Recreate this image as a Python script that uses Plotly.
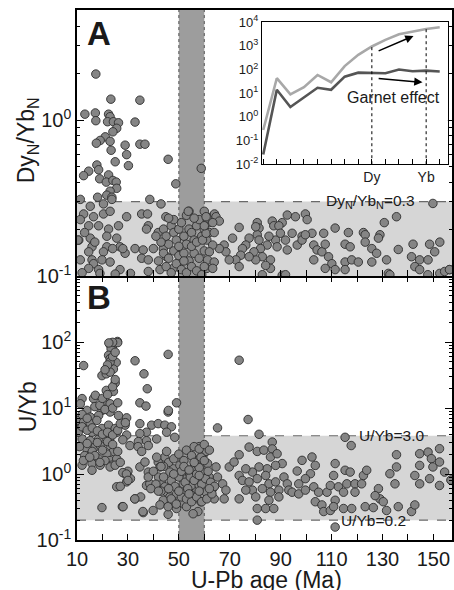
import plotly.graph_objects as go

# ---------------- data ----------------
# Panel A: U-Pb age (Ma) vs DyN/YbN
age_a = [17.4,23.3,34.7,13.1,17.2,17.4,22.4,23.0,22.0,24.3,26.3,25.6,24.1,32.8,21.1,19.1,17.6,23.0,23.4,28.9,
         34.7,36.7,29.5,25.0,30.2,17.8,18.5,14.6,12.6,22.4,18.9,21.5,24.1,25.4,25.6,23.0,21.7,23.7,18.1,45.8,
         48.8,58.8,
         11.3,15.2,20.4,23.7,38.6,43.0,54.0,12.6,16.5,20.4,23.0,29.5,35.4,37.7,38.0,44.9,11.3,14.6,18.5,22.4,
         26.3,37.3,41.9,10.7,15.2,21.7,25.6,15.9,21.7,26.9,32.8,36.0,40.0,43.9,14.6,20.4,28.9,11.3,15.9,19.8,
         35.4,38.0,45.2,16.5,23.0,26.9,14.6,18.5,38.0,42.6,47.8,10.4,13.0,17.0,24.0,28.0,12.0,19.0,25.0,31.0,
         44,45,46,47,48,49,50,51,52,53,54,55,56,57,58,59,60,61,62,44,46,48,50,52,54,56,58,60,45,47,49,51,53,55,
         57,59,61,42,43,41,50,52,55,57,53,56,48,62,60,46,61,63,64,53.7,
         149.8,92.6,95.8,99.7,100.4,90.6,86.7,87.3,80.8,81.5,73.7,64.6,60.7,65.9,135.5,130.7,111.4,116.6,122.5,123.2,
         129.0,128.4,106.9,102.3,98.4,94.5,89.3,89.9,88.0,85.4,84.7,88.6,91.9,92.6,80.8,81.5,82.1,82.8,86.0,86.0,
         84.1,80.2,79.5,77.6,76.3,75.0,74.3,77.6,72.4,69.8,73.7,67.8,71.1,68.5,65.9,63.3,62.0,61.3,63.9,63.3,
         60.0,59.3,60.7,63.9,60.0,63.3,90.6,96.5,98.4,99.7,103.0,104.3,103.0,106.2,107.5,108.8,110.1,107.5,111.4,115.3,
         117.9,120.5,115.3,117.3,123.2,125.8,127.7,125.8,131.6,136.2,142.0,141.4,144.6,147.9,148.5,152.5,150.5,142.7,144.6,152.5,
         154.4,156.4,132.3,115.3,80.2,82.8,91.9,132.9,147.8,156.3]
dyyb_a = [1.97,1.36,1.34,1.09,1.11,0.99,1.09,1.05,0.975,0.975,0.96,0.885,0.84,0.97,0.78,0.74,0.71,0.73,0.64,0.69,
          0.70,0.70,0.60,0.54,0.51,0.515,0.48,0.47,0.44,0.445,0.42,0.40,0.41,0.40,0.365,0.35,0.33,0.32,0.32,0.56,
          0.39,0.49,
          0.31,0.28,0.29,0.31,0.31,0.29,0.26,0.25,0.24,0.25,0.26,0.24,0.25,0.25,0.21,0.24,0.23,0.21,0.21,0.20,
          0.21,0.20,0.19,0.17,0.175,0.18,0.175,0.154,0.154,0.154,0.15,0.147,0.15,0.15,0.143,0.143,0.14,0.127,0.127,0.127,
          0.13,0.127,0.133,0.12,0.123,0.11,0.112,0.11,0.107,0.11,0.112,0.17,0.19,0.165,0.15,0.15,0.105,0.104,0.103,0.104,
          0.2,0.18,0.16,0.21,0.19,0.17,0.2,0.22,0.18,0.16,0.2,0.19,0.17,0.21,0.23,0.18,0.2,0.17,0.19,0.14,0.13,0.145,0.135,0.14,0.125,0.14,0.13,0.145,0.115,0.105,0.12,0.11,0.105,0.115,
          0.108,0.102,0.112,0.125,0.165,0.18,0.155,0.125,0.155,0.165,0.245,0.235,0.23,0.22,0.26,0.235,0.235,0.24,0.25,0.26,
          0.292,0.246,0.24,0.25,0.23,0.22,0.225,0.21,0.22,0.203,0.205,0.24,0.24,0.225,0.24,0.22,0.203,0.19,0.19,0.184,
          0.184,0.175,0.188,0.188,0.18,0.188,0.21,0.188,0.17,0.18,0.158,0.154,0.17,0.147,0.184,0.17,0.15,0.133,0.127,0.112,
          0.117,0.127,0.143,0.175,0.158,0.15,0.136,0.133,0.127,0.127,0.115,0.158,0.175,0.143,0.15,0.158,0.143,0.127,0.123,0.112,
          0.115,0.17,0.188,0.19,0.21,0.22,0.101,0.158,0.17,0.184,0.158,0.147,0.127,0.143,0.16,0.133,0.12,0.112,0.11,0.123,
          0.127,0.123,0.16,0.154,0.165,0.15,0.14,0.123,0.127,0.148,0.16,0.133,0.127,0.127,0.16,0.165,0.143,0.115,0.11,0.104,
          0.107,0.11,0.104,0.11,0.207,0.102,0.102,0.102,0.102,0.11]

# Panel B: U-Pb age (Ma) vs U/Yb
age_b = [25.9,23.0,24.1,23.4,12.6,22.4,23.0,23.7,22.4,25.4,24.3,19.8,21.5,23.0,32.8,45.8,36.3,25.0,37.6,21.5,
         24.3,12.0,11.3,16.5,17.2,21.1,23.0,19.8,13.9,15.2,18.5,23.0,26.3,29.5,34.7,37.1,45.8,49.1,10.0,12.6,
         15.2,17.8,11.3,15.9,19.8,22.4,25.0,28.9,34.7,39.3,41.9,44.5,47.1,37.3,34.7,12.0,15.2,18.5,23.0,25.6,
         29.5,30.8,34.1,37.3,41.3,45.2,48.4,13.9,17.2,19.1,23.0,24.3,21.7,18.5,14.6,15.9,19.1,23.0,25.6,23.7,
         12.0,34.0,38.0,35.4,15.9,23.0,25.0,34.7,36.7,38.0,28.9,29.5,37.3,38.6,41.9,42.6,44.5,45.2,41.3,25.6,
         19.8,27.8,32.8,36.0,39.9,45.8,
         43.2,44.5,45.2,46.5,47.8,49.1,50.4,51.7,53.0,54.3,55.6,56.9,58.2,59.5,49.1,47.8,50.4,46.5,43.9,42.6,
         45.8,49.1,51.7,54.3,55.6,56.9,58.8,60.1,57.5,55.6,53.0,54.9,53.0,
         65.2,77.2,81.5,115.3,117.7,58.0,60.7,58.7,61.3,59.3,61.9,58.0,60.7,58.7,63.3,64.6,65.2,67.2,68.5,67.8,63.9,
         69.8,71.7,73.7,77.6,80.8,83.4,86.7,86.7,86.0,88.6,90.6,88.0,84.7,81.5,78.9,76.3,73.7,75.0,77.6,80.8,
         84.1,85.4,88.0,91.3,92.6,89.3,86.0,82.8,78.9,76.3,73.7,80.2,85.4,89.3,80.8,84.1,87.3,80.8,93.2,
         96.5,98.4,102.3,103.6,101.7,99.7,97.1,94.5,97.1,99.7,103.0,104.9,103.6,106.2,106.9,109.5,108.2,109.5,110.8,111.4,
         112.7,115.3,117.3,116.0,114.7,111.4,110.8,114.7,117.9,119.2,121.8,122.5,123.8,119.2,111.4,
         123.2,126.4,129.0,128.4,130.3,131.6,127.1,132.9,134.9,135.5,135.5,136.2,141.4,142.7,144.6,147.9,149.2,149.8,152.4,152.4,
         144.6,142.7,144.6,148.5,154.4,157.0,152.4,73.7,45.9,156.9,
         47,48.5,50,51,52.5,53.5,54.5,56,57,58,59,60.5,61.5,62.5,46,48,50,52,53,55,56,58,60,62,44,42,41,43,47,49,
         51,53,55,57,59,61,63,64,62,58,54,50,46,44,52,56,60,48,54,58,
         11,13,14,16,17,18,20,21,22,24,26,27,28,12.5,15,19,10.5,12,14,16,18,20,22,24,26,27,29,12,14,17,19,21,24,26,
         20,22,24,25,23,24,22,25,21,26,24,22.5,
         30,31,35,38,40,43,39,42,27,28,29.4,30,28.1,32.7,35.9]
uyb_b = [102,91,89,79,44,63,56,44,42,49,39,31,33,35,52,65,33,24,19.6,18.5,
         17.9,13.9,11.6,13.9,15.6,12.3,11.6,9.2,9.2,7.3,7.7,8.7,7.7,7.1,12,10.7,8.7,12,6.5,6.1,
         5.8,6.5,4.9,4.3,4.9,5.5,4.9,5.5,5.8,5.5,5.8,5.5,5.2,4.3,4.1,3.4,3.2,3.4,3.6,4.3,
         3.9,2.7,3.1,3.2,3.4,4.3,3.6,2.4,2.6,2.7,2.7,2.2,2.0,1.7,1.9,1.44,1.36,1.6,1.7,1.36,
         1.36,2.6,2.7,2.2,1.14,1.28,1.36,1.28,1.52,1.07,1.01,0.76,0.67,0.71,1.52,1.28,1.8,2.2,1.8,0.64,
         0.31,0.32,0.42,0.26,0.28,0.245,
         0.76,0.64,0.53,0.45,0.38,0.50,0.60,0.71,0.85,1.01,1.2,1.44,1.71,1.92,0.95,1.2,1.36,1.07,0.40,0.34,
         0.32,0.30,0.36,0.40,0.50,0.60,0.76,0.95,0.27,0.25,0.32,0.67,0.53,
         5.0,6.7,4.0,3.6,2.7,2.6,2.2,1.8,1.44,1.07,0.90,0.67,0.53,0.38,0.60,1.28,0.9,0.71,0.57,0.42,0.42,
         1.28,1.52,1.96,2.56,2.2,2.3,3.05,2.4,1.81,2.03,1.44,1.35,1.2,1.28,1.07,1.2,0.95,0.80,0.76,0.85,
         0.95,0.71,0.76,0.9,0.71,0.57,0.53,0.60,0.57,0.57,0.42,0.45,0.40,0.45,0.30,0.30,0.30,0.2,0.57,
         1.11,1.61,1.81,1.35,1.01,0.85,0.71,0.53,0.50,0.57,0.64,0.53,0.38,0.34,0.27,0.28,0.53,0.67,0.95,1.44,
         0.64,1.14,1.07,0.71,0.53,0.40,0.32,0.30,0.30,0.71,0.71,0.95,1.14,0.53,0.157,
         0.32,0.31,0.42,0.60,0.38,0.28,0.47,1.01,0.71,1.28,1.96,0.32,0.27,0.34,2.03,2.15,1.71,1.28,2.42,1.52,
         1.35,0.95,0.71,0.85,1.07,0.80,0.67,53,9.2,0.81,
         0.8,0.65,0.9,1.1,0.75,0.6,0.9,0.8,1.0,1.25,0.7,0.85,1.1,0.75,1.5,1.7,2.0,1.6,2.3,1.9,2.6,2.4,2.8,2.3,1.3,0.9,0.7,0.55,0.42,0.35,
         0.45,0.42,0.38,0.45,0.38,0.42,0.5,0.65,0.6,0.55,0.5,0.55,0.6,0.9,1.3,1.5,1.6,1.0,1.15,0.95,
         2.6,1.9,2.9,2.2,1.9,3.0,2.3,1.6,3.1,2.8,2.2,1.5,3.3,1.6,1.8,1.5,4.3,5.2,4.6,5.0,4.5,4.0,4.3,3.9,4.6,5.8,6.0,8.0,7.0,10.5,11,9.5,10,12,
         14,16,21,27,50,60,45,70,38,98,99,97,
         1.1,0.85,0.45,0.9,1.1,1.3,0.6,0.55,0.65,1.05,1.0,0.8,0.32,0.42,0.27]

# reference limits
dy_limit = 0.3
uyb_high = 3.8
uyb_low = 0.2
gap_age = [50, 60]
age_range = [10, 157.3]

# Inset: chondrite-normalised REE patterns
ree = ["La","Ce","Pr","Nd","Sm","Eu","Gd","Tb","Dy","Ho","Er","Tm","Yb","Lu"]
ree_no_garnet = [0.28,43,9,18,59,29,140,420,940,1800,3100,4000,5200,6100]
ree_garnet = [0.026,14,2.6,6.6,17,14,50,74,70,70,100,85,90,83]
ree_labelled = ["Dy", "Yb"]

FONT = "Liberation Sans, Arial, sans-serif"
A_RANGE = [-1, 0.705]
B_RANGE = [-1, 3]

fig = go.Figure()

# horizontal bands
fig.add_trace(go.Scatter(x=[age_range[0], age_range[1], age_range[1], age_range[0], age_range[0]],
                         y=[0.1, 0.1, dy_limit, dy_limit, 0.1], fill="toself", fillcolor="#d6d6d6",
                         line=dict(width=0), mode="lines", xaxis="x2", yaxis="y2", hoverinfo="skip"))
fig.add_trace(go.Scatter(x=age_range, y=[dy_limit, dy_limit], mode="lines",
                         line=dict(color="#6a6a6a", width=1.2, dash="dash"), xaxis="x2", yaxis="y2"))
fig.add_trace(go.Scatter(x=[age_range[0], age_range[1], age_range[1], age_range[0], age_range[0]],
                         y=[uyb_low, uyb_low, uyb_high, uyb_high, uyb_low], fill="toself", fillcolor="#d6d6d6",
                         line=dict(width=0), mode="lines", xaxis="x", yaxis="y", hoverinfo="skip"))
for v in (uyb_low, uyb_high):
    fig.add_trace(go.Scatter(x=age_range, y=[v, v], mode="lines",
                             line=dict(color="#6a6a6a", width=1.2, dash="dash"), xaxis="x", yaxis="y"))

# vertical gap band in both panels
for xa, ya, top in (("x2", "y2", 10 ** A_RANGE[1]), ("x", "y", 10 ** B_RANGE[1])):
    fig.add_trace(go.Scatter(x=[gap_age[0], gap_age[1], gap_age[1], gap_age[0], gap_age[0]],
                             y=[0.1, 0.1, top, top, 0.1], fill="toself", fillcolor="#9d9d9d",
                             line=dict(width=0), mode="lines", xaxis=xa, yaxis=ya, hoverinfo="skip"))
    for g in gap_age:
        fig.add_trace(go.Scatter(x=[g, g], y=[0.1, top], mode="lines",
                                 line=dict(color="#555555", width=1, dash="dot"), xaxis=xa, yaxis=ya))

marker = dict(size=8.5, color="#858585", line=dict(color="#2e2e2e", width=0.9))
fig.add_trace(go.Scatter(x=age_a, y=dyyb_a, mode="markers", marker=marker, xaxis="x2", yaxis="y2"))
fig.add_trace(go.Scatter(x=age_b, y=uyb_b, mode="markers", marker=marker, xaxis="x", yaxis="y"))

# inset
idx = list(range(len(ree)))
fig.add_trace(go.Scatter(x=idx, y=ree_no_garnet, mode="lines", line=dict(color="#a8a8a8", width=2.6),
                         xaxis="x3", yaxis="y3"))
fig.add_trace(go.Scatter(x=idx, y=ree_garnet, mode="lines", line=dict(color="#555555", width=2.6),
                         xaxis="x3", yaxis="y3"))
for name in ree_labelled:
    i = ree.index(name)
    fig.add_trace(go.Scatter(x=[i, i], y=[0.01, ree_no_garnet[i]], mode="lines",
                             line=dict(color="black", width=1, dash="dot"), xaxis="x3", yaxis="y3"))

def log_ticks(lo, hi):
    vals = []
    for e in range(lo, hi):
        for m in range(2, 10):
            vals.append(m * 10 ** e)
    return vals

def sup(e):
    return "10<sup>%d</sup>" % e

axis_common = dict(showgrid=False, zeroline=False, showline=True, linecolor="black",
                   tickcolor="black", tickfont=dict(family=FONT, size=20, color="#1a1a1a"))

fig.update_layout(
    width=454, height=590, showlegend=False,
    margin=dict(l=77, r=0, t=10, b=50),
    paper_bgcolor="white", plot_bgcolor="white",
    font=dict(family=FONT, color="#1a1a1a"),
    xaxis=dict(domain=[0, 1], anchor="y", range=age_range, tick0=10, dtick=20, ticks="inside", ticklen=6,
               linewidth=2, mirror="ticks",
               minor=dict(dtick=10, tick0=0, ticks="inside", ticklen=6, tickcolor="black"), **axis_common),
    yaxis=dict(domain=[0, 0.498], anchor="x", type="log", range=B_RANGE,
               tickmode="array", tickvals=[0.1, 1, 10, 100], ticktext=[sup(-1), sup(0), sup(1), sup(2)],
               ticks="inside", ticklen=7, linewidth=1.5, mirror="ticks",
               minor=dict(tickmode="array", tickvals=log_ticks(-1, 3), ticks="inside", ticklen=3.5,
                          tickcolor="black"), **axis_common),
    xaxis2=dict(domain=[0, 1], anchor="y2", matches="x", range=age_range, tick0=10, dtick=20,
                ticks="inside", ticklen=6, linewidth=2.2, mirror=True, showticklabels=False,
                minor=dict(dtick=10, tick0=0, ticks="inside", ticklen=6, tickcolor="black"), **axis_common),
    yaxis2=dict(domain=[0.498, 1], anchor="x2", type="log", range=A_RANGE,
                tickmode="array", tickvals=[0.1, 1], ticktext=[sup(-1), sup(0)],
                ticks="inside", ticklen=7, linewidth=1.5, mirror="ticks",
                minor=dict(tickmode="array", tickvals=log_ticks(-1, 1), ticks="inside", ticklen=3.5,
                           tickcolor="black"), **axis_common),
    xaxis3=dict(domain=[0.493, 0.989], anchor="y3", range=[-0.1, 13.6],
                tickmode="array", tickvals=[ree.index(n) for n in ree_labelled], ticktext=ree_labelled,
                ticks="inside", ticklen=5, linewidth=1, mirror=True,
                minor=dict(tickmode="array", tickvals=idx, ticks="inside", ticklen=5, tickcolor="black"),
                showgrid=False, zeroline=False, showline=True, linecolor="black", tickcolor="black",
                tickfont=dict(family=FONT, size=14, color="#1a1a1a")),
    yaxis3=dict(domain=[0.709, 0.977], anchor="x3", type="log", range=[-2, 4],
                tickmode="array", tickvals=[10 ** e for e in range(-2, 5)],
                ticktext=[sup(e) for e in range(-2, 5)],
                ticks="", linewidth=1, mirror=True,
                showgrid=False, zeroline=False, showline=True, linecolor="black",
                tickfont=dict(family=FONT, size=13, color="#1a1a1a")),
)

ann = []
def T(text, x, y, size, xref="paper", yref="paper", **kw):
    ann.append(dict(text=text, x=x, y=y, xref=xref, yref=yref, showarrow=False,
                    xanchor="center", yanchor="middle",
                    font=dict(family=FONT, size=size, color="#1a1a1a"), **kw))

def px2x(px):
    return (px - 77) / 377.0

def py2y(py):
    return (540 - py) / 530.0

T("<b>A</b>", px2x(99), py2y(33), 33)
T("<b>B</b>", px2x(99), py2y(297), 33)
T("Dy<sub>N</sub>/Yb<sub>N</sub>", px2x(28), py2y(140), 23, textangle=-90)
T("U/Yb", px2x(28), py2y(407), 23, textangle=-90)
T("U-Pb age (Ma)", px2x(268), py2y(580), 23)
T("Dy<sub>N</sub>/Yb<sub>N</sub>=0.3", 125.2, -0.523, 15.5, xref="x2", yref="y2")
T("U/Yb=3.0", 133.6, 0.58, 15.5, xref="x", yref="y")
T("U/Yb=0.2", 126.4, -0.70, 15.5, xref="x", yref="y")
T("Garnet effect", 9.6, 0.82, 16, xref="x3", yref="y3")

for (x0, y0, x1, y1) in ((8.39, 2.76, 11.07, 3.42), (8.39, 1.63, 11.73, 1.46)):
    ann.append(dict(x=x1, y=y1, ax=x0, ay=y0, xref="x3", yref="y3", axref="x3", ayref="y3",
                    showarrow=True, arrowhead=2, arrowsize=1.1, arrowwidth=1.5, arrowcolor="black", text=""))

fig.update_layout(annotations=ann)
fig.write_html("out.html", config={"displayModeBar": False},
               post_script="document.body.style.margin='0';")
